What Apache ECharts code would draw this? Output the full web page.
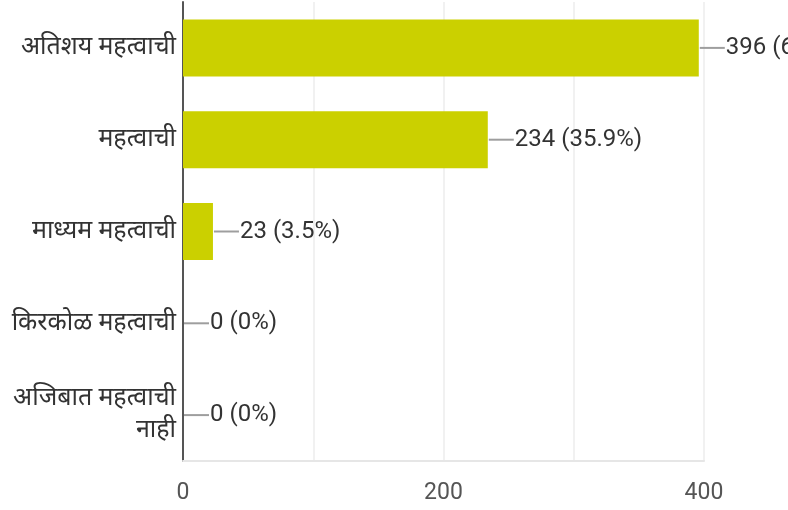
<!DOCTYPE html>
<html>
<head>
<meta charset="utf-8">
<script src="https://cdn.jsdelivr.net/npm/echarts@6/dist/echarts.min.js"></script>
<style>
html,body{margin:0;padding:0;background:#fff;}
#chart{width:788px;height:510px;}
</style>
</head>
<body>
<div id="chart"></div>
<script>
const categories = ['अतिशय महत्वाची', 'महत्वाची', 'माध्यम महत्वाची', 'किरकोळ महत्वाची', 'अजिबात महत्वाची\nनाही'];
const values = [396, 234, 23, 0, 0];
const percents = ['60.7%', '35.9%', '3.5%', '0%', '0%'];
const xTicks = [0, 200, 400];

const chart = echarts.init(document.getElementById('chart'));
const font = 'Roboto, "Noto Sans", sans-serif';
chart.setOption({
  animation: false,
  grid: {left: 183, right: 84, top: 2, bottom: 49, containLabel: false},
  xAxis: {
    type: 'value', min: 0, max: 400, interval: 100,
    axisLine: {show: true, lineStyle: {color: '#e6e6e6', width: 2}},
    axisTick: {show: false},
    splitLine: {show: true, lineStyle: {color: '#ececec', width: 1.5}},
    axisLabel: {
      margin: 21, fontSize: 23, color: '#555', fontFamily: font,
      formatter: v => xTicks.indexOf(v) >= 0 ? String(v) : ''
    }
  },
  yAxis: {
    type: 'category', data: categories, inverse: true,
    axisLine: {show: true, lineStyle: {color: '#555', width: 2}},
    axisTick: {show: false},
    splitLine: {show: false},
    axisLabel: {margin: 7, fontSize: 25, color: '#333', fontFamily: font, lineHeight: 32, align: 'right'}
  },
  series: [{
    type: 'bar',
    data: values,
    barWidth: 57,
    itemStyle: {color: '#cbd000'},
    label: {
      show: true, position: 'right', distance: 1,
      fontSize: 24, color: '#333', fontFamily: font,
      formatter: p => '{ln|}{t|' + p.value + ' (' + percents[p.dataIndex] + ')}',
      rich: {
        ln: {width: 25, height: 2, backgroundColor: '#9e9e9e', verticalAlign: 'middle'},
        t: {fontSize: 24, color: '#333', fontFamily: font, padding: [0, 0, 0, 1]}
      }
    }
  }]
});
</script>
</body>
</html>
